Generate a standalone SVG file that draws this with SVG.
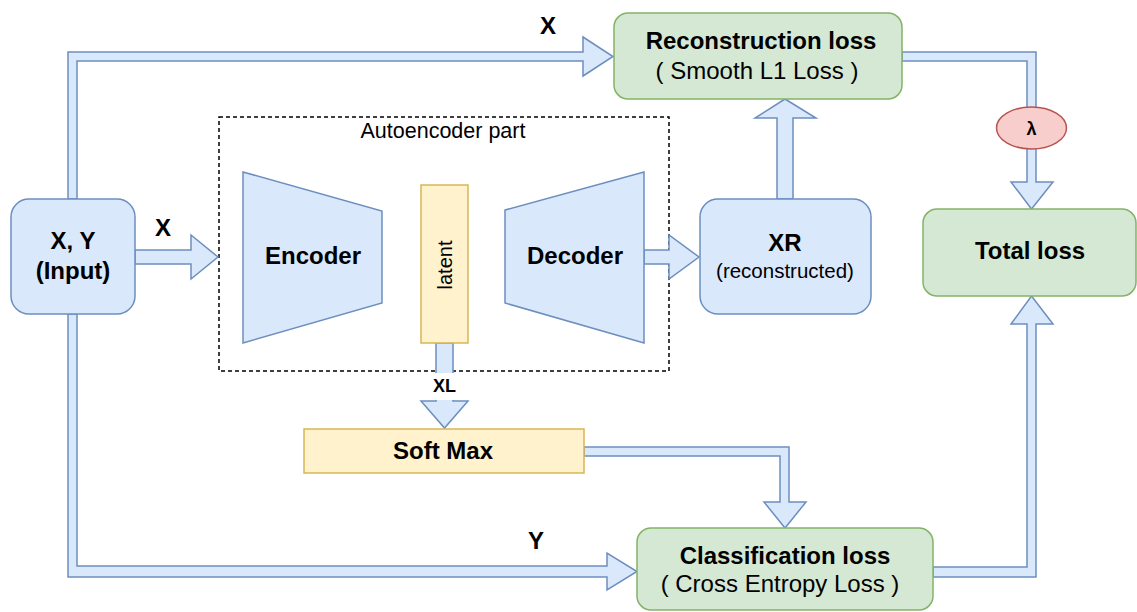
<svg xmlns="http://www.w3.org/2000/svg" width="1137" height="612" viewBox="0 0 1137 612">
<style>
.blue{fill:#dae8fc;stroke:#6c8ebf;stroke-width:1.5}
.green{fill:#d5e8d4;stroke:#82b366;stroke-width:1.5}
.yellow{fill:#fff2cc;stroke:#d6b656;stroke-width:1.5}
.red{fill:#f8cecc;stroke:#b85450;stroke-width:1.5}
.conn{fill:#dae8fc;stroke:#6c8ebf;stroke-width:1.5;stroke-linejoin:miter}
.t{font-family:"Liberation Sans",Arial,sans-serif;fill:#000;text-anchor:middle}
.b{font-weight:bold;font-size:24px}
.r{font-size:24px}
</style>
<rect width="1137" height="612" fill="#fff"/>
<g id="autoencoder-group">
<rect x="219" y="117" width="450" height="254" fill="none" stroke="#000" stroke-width="1.5" stroke-dasharray="4 3"/>
<text class="t" x="443" y="138" font-size="21.5">Autoencoder part</text>
</g>
<g id="connectors">
<path class="conn" d="M68,199 L68,52 L583,52 L583,37 L613,56.5 L583,76 L583,61 L77,61 L77,199 Z"/>
<path class="conn" d="M68,314 L68,577 L607,577 L607,590 L637,571.5 L607,553 L607,566 L77,566 L77,314 Z"/>
<path class="conn" d="M135,250 L191,250 L191,235 L218,257 L191,279 L191,264 L135,264 Z"/>
<path class="conn" d="M644,250 L669,250 L669,235 L699,257 L669,279 L669,264 L644,264 Z"/>
<path class="conn" d="M777,199 L777,118 L755,118 L785,99 L816,118 L793,118 L793,199 Z"/>
<path class="conn" d="M436,343 L436,401 L421,401 L444.5,428 L468,401 L453,401 L453,343 Z"/>
<rect x="428" y="373" width="33" height="27" fill="#fff"/>
<text class="t" x="444.5" y="392" font-size="18" font-weight="bold">XL</text>
<path class="conn" d="M584,447 L789,447 L789,502 L806,502 L785,528 L764,502 L780,502 L780,456 L584,456 Z"/>
<path class="conn" d="M902,52 L1036,52 L1036,182 L1053,182 L1031.5,209 L1011,182 L1027,182 L1027,61 L902,61 Z"/>
<path class="conn" d="M933,577 L1036,577 L1036,324 L1053,324 L1031.5,296 L1011,324 L1027,324 L1027,567 L933,567 Z"/>
<text class="t b" x="548" y="34">X</text>
<text class="t b" x="163" y="236">X</text>
<text class="t b" x="536" y="549">Y</text>
</g>
<g id="input">
<rect class="blue" x="11" y="199" width="124" height="115" rx="18"/>
<text class="t b" x="73" y="249">X, Y</text>
<text class="t b" x="73" y="279">(Input)</text>
</g>
<g id="encoder">
<polygon class="blue" points="243,172 382,211 382,303 243,343"/>
<text class="t b" x="313" y="264">Encoder</text>
</g>
<g id="latent">
<rect class="yellow" x="421" y="185" width="47" height="158"/>
<text class="t" x="0" y="0" font-size="20" transform="translate(451.5,265) rotate(-90)">latent</text>
</g>
<g id="decoder">
<polygon class="blue" points="505,210 644,172 644,343 505,303"/>
<text class="t b" x="575" y="264">Decoder</text>
</g>
<g id="xr">
<rect class="blue" x="700" y="199" width="171" height="115" rx="18"/>
<text class="t b" x="785" y="251">XR</text>
<text class="t" x="785" y="278" font-size="20.5">(reconstructed)</text>
</g>
<g id="reconstruction-loss">
<rect class="green" x="614" y="13" width="288" height="86" rx="14"/>
<text class="t b" x="761" y="49">Reconstruction loss</text>
<text class="t r" x="757" y="79">( Smooth L1 Loss )</text>
</g>
<g id="lambda">
<ellipse class="red" cx="1031.5" cy="128" rx="35" ry="21"/>
<text class="t" x="1031.5" y="134.5" font-size="18" font-weight="bold">λ</text>
</g>
<g id="total-loss">
<rect class="green" x="923" y="209" width="213" height="87" rx="14"/>
<text class="t b" x="1030" y="259">Total loss</text>
</g>
<g id="softmax">
<rect class="yellow" x="304" y="429" width="280" height="44"/>
<text class="t b" x="443" y="459">Soft Max</text>
</g>
<g id="classification-loss">
<rect class="green" x="637" y="528" width="296" height="82" rx="14"/>
<text class="t b" x="785" y="564">Classification loss</text>
<text class="t r" x="780" y="592">( Cross Entropy Loss )</text>
</g>
</svg>
